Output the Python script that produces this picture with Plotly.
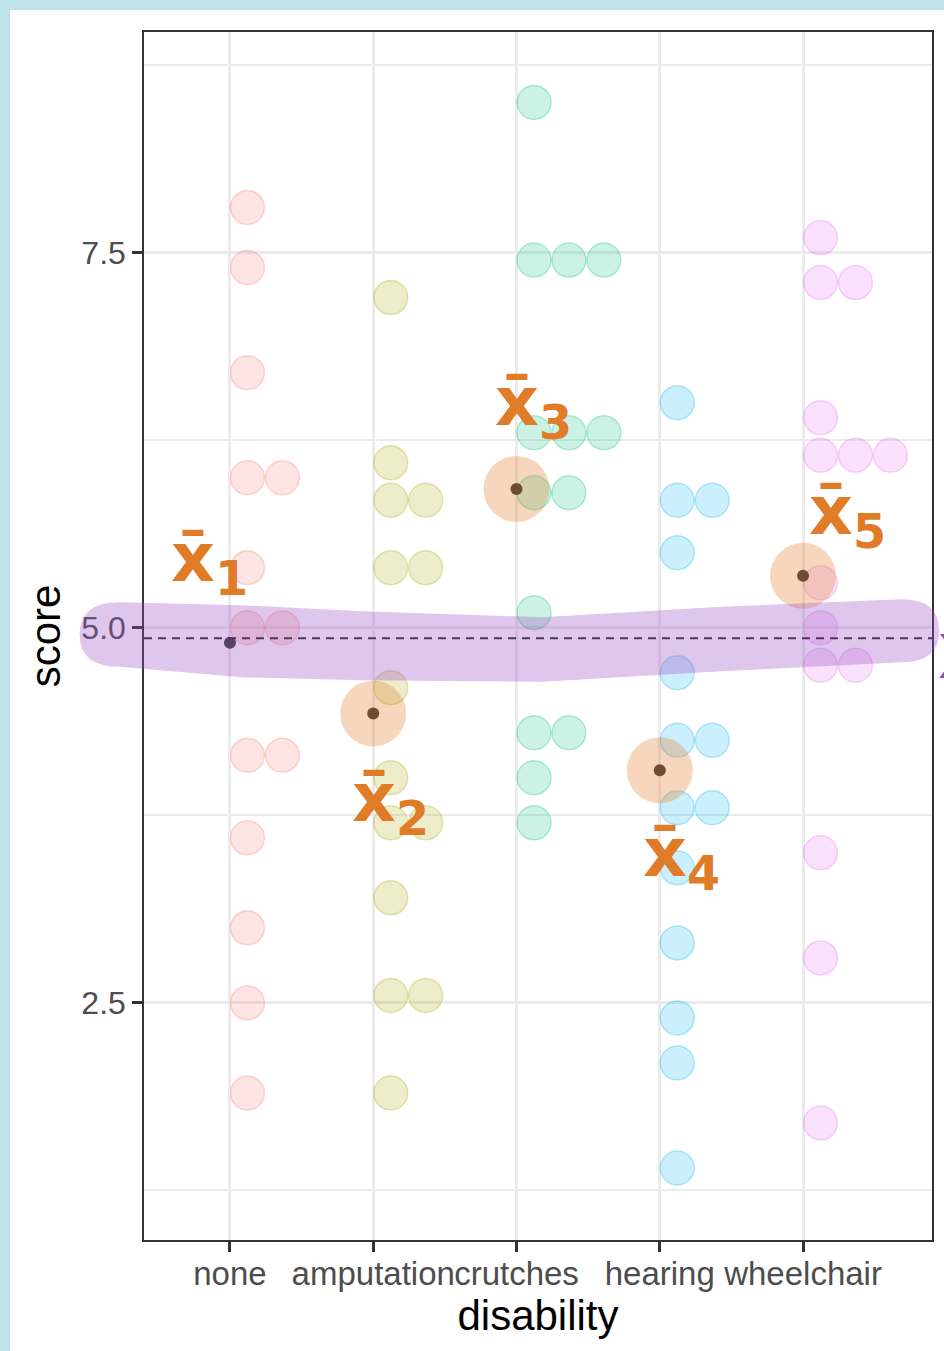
import numpy as np
import plotly.graph_objects as go

# disability groups and the dot-plot scores as they are shown (bin centres)
categories = ["none", "amputation", "crutches", "hearing", "wheelchair"]

score_none = [7.8, 7.4, 6.7, 6.0, 6.0, 5.4, 5.0, 5.0, 4.15, 4.15, 3.6, 3.0, 2.5, 1.9]
score_amputation = [7.2, 6.1, 5.85, 5.85, 5.4, 5.4, 4.6, 4.0, 3.7, 3.7, 3.2, 2.55, 2.55, 1.9]
score_crutches = [8.5, 7.45, 7.45, 7.45, 6.3, 6.3, 6.3, 5.9, 5.9, 5.1, 4.3, 4.3, 4.0, 3.7]
score_hearing = [6.5, 5.85, 5.85, 5.5, 4.7, 4.25, 4.25, 3.8, 3.8, 3.4, 2.9, 2.4, 2.1, 1.4]
score_wheelchair = [7.6, 7.3, 7.3, 6.4, 6.15, 6.15, 6.15, 5.3, 5.0, 4.75, 4.75, 3.5, 2.8, 1.7]

groups = [score_none, score_amputation, score_crutches, score_hearing, score_wheelchair]
colors = ["#F8766D", "#A3A500", "#00BF7D", "#00B0F6", "#E76BF3"]

# hand-drawn labels for the group means (x in category units, y in score units)
label_text = ["x̄<sub>1</sub>", "x̄<sub>2</sub>", "x̄<sub>3</sub>", "x̄<sub>4</sub>", "x̄<sub>5</sub>"]
label_x = [-0.14, 1.12, 2.12, 3.15, 4.31]
label_y = [5.44, 3.84, 6.48, 3.47, 5.75]

# purple highlighter stroke around the grand mean
band_x = [-0.77, 0.08, 0.92, 2.18, 3.43, 4.69]
band_top = [5.17, 5.15, 5.11, 5.07, 5.14, 5.19]
band_bottom = [4.74, 4.67, 4.65, 4.64, 4.71, 4.77]
band_cap = [-1.05, 4.95]

x_range = [-0.6, 4.9]
y_range = [0.92, 8.97]

FONT = "Liberation Sans, Arial, Helvetica, sans-serif"


def rgba(hex_color, a):
    h = hex_color.lstrip("#")
    r, g, b = int(h[0:2], 16), int(h[2:4], 16), int(h[4:6], 16)
    return f"rgba({r},{g},{b},{a})"


def px(x):
    return (x - x_range[0]) / (x_range[1] - x_range[0])


def py(y):
    return (y - y_range[0]) / (y_range[1] - y_range[0])


fig = go.Figure()

# dots stacked to the right of each category (geom_dotplot style)
step = 0.244
for i, (vals, col) in enumerate(zip(groups, colors)):
    seen = {}
    xs = []
    for v in vals:
        k = seen.get(v, 0)
        seen[v] = k + 1
        xs.append(i + step / 2 + k * step)
    fig.add_trace(go.Scatter(
        x=xs, y=vals, mode="markers",
        marker=dict(size=34, color=rgba(col, 0.2),
                    line=dict(color=rgba(col, 0.28), width=1.5)),
        hoverinfo="skip", showlegend=False
    ))

means = [float(np.mean(g)) for g in groups]
grand_mean = float(np.mean(np.concatenate(groups)))

# group means
fig.add_trace(go.Scatter(
    x=list(range(5)), y=means, mode="markers",
    marker=dict(size=12, color="#3a3a3a"),
    showlegend=False, hoverinfo="skip"
))

# orange highlight circles on means 2..5
fig.add_trace(go.Scatter(
    x=list(range(1, 5)), y=means[1:], mode="markers",
    marker=dict(size=66, color="rgba(224,123,39,0.3)"),
    showlegend=False, hoverinfo="skip"
))

# grand mean dashed line
fig.add_shape(type="line", xref="paper", x0=0, x1=1, yref="y",
              y0=grand_mean, y1=grand_mean,
              line=dict(color="#2b2b2b", width=2, dash="8px,6px"), layer="above")

# highlighter band (paper coords so it can run past the panel)
mid_l = (band_top[0] + band_bottom[0]) / 2
mid_r = (band_top[-1] + band_bottom[-1]) / 2
path = f"M {px(band_x[0])},{py(band_top[0])}"
for bx, bt in zip(band_x[1:], band_top[1:]):
    path += f" L {px(bx)},{py(bt)}"
path += (f" Q {px(band_cap[1])},{py(band_top[-1])} {px(band_cap[1])},{py(mid_r)}"
         f" Q {px(band_cap[1])},{py(band_bottom[-1])} {px(band_x[-1])},{py(band_bottom[-1])}")
for bx, bb in zip(band_x[::-1][1:], band_bottom[::-1][1:]):
    path += f" L {px(bx)},{py(bb)}"
path += (f" Q {px(band_cap[0])},{py(band_bottom[0])} {px(band_cap[0])},{py(mid_l)}"
         f" Q {px(band_cap[0])},{py(band_top[0])} {px(band_x[0])},{py(band_top[0])} Z")
fig.add_shape(type="path", xref="paper", yref="paper", path=path,
              fillcolor="rgba(155,79,196,0.32)", line=dict(width=0), layer="above")

# slide background: light blue frame, white page
fig.add_shape(type="rect", xref="paper", yref="paper",
              x0=-0.17, x1=1.05, y0=-0.2, y1=1.0182,
              fillcolor="white", line=dict(width=0), layer="below")

for t, lx, ly in zip(label_text, label_x, label_y):
    fig.add_annotation(x=lx, y=ly, text=f"<b>{t}</b>", showarrow=False,
                       xanchor="center", yanchor="middle",
                       font=dict(family="DejaVu Sans", size=68, color="#E07B27"))

# purple label cut off at the right edge (paper coords so it is not hidden)
fig.add_annotation(x=px(4.93), y=py(4.85), xref="paper", yref="paper",
                   text="<b>x</b>", showarrow=False,
                   xanchor="left", yanchor="middle",
                   font=dict(family="DejaVu Sans", size=80, color="#9B45C4"))

fig.update_layout(
    width=944, height=1351,
    margin=dict(l=144, r=12, t=32, b=111),
    paper_bgcolor="#bfe1ea",
    plot_bgcolor="white",
    font=dict(family=FONT),
    showlegend=False,
    xaxis=dict(
        range=x_range, tickvals=list(range(5)), ticktext=categories,
        tickangle=0, automargin=False, ticklabelstandoff=-6,
        showgrid=True, gridcolor="#ebebeb", gridwidth=3, zeroline=False,
        showline=True, mirror=True, linecolor="#333333", linewidth=1.5,
        ticks="outside", ticklen=10, tickwidth=2.5, tickcolor="#333333",
        tickfont=dict(family=FONT, size=33, color="#4d4d4d"),
        title=dict(text="disability", font=dict(family=FONT, size=42, color="black"), standoff=4),
    ),
    yaxis=dict(
        range=y_range, tickvals=[2.5, 5.0, 7.5], tickformat=".1f",
        automargin=False,
        showgrid=True, gridcolor="#ebebeb", gridwidth=3, zeroline=False,
        minor=dict(tickvals=[1.25, 3.75, 6.25, 8.75], showgrid=True,
                   gridcolor="#ebebeb", gridwidth=1.5, ticks=""),
        showline=True, mirror=True, linecolor="#333333", linewidth=1.5,
        ticks="outside", ticklen=10, tickwidth=2.5, tickcolor="#333333",
        tickfont=dict(family=FONT, size=32, color="#4d4d4d"),
        title=dict(text="score", font=dict(family=FONT, size=42, color="black"), standoff=8),
    ),
)

fig.write_html("out.html", config={"displayModeBar": False},
               post_script="document.body.style.margin='0';"
                           "document.body.style.background='#bfe1ea';")
